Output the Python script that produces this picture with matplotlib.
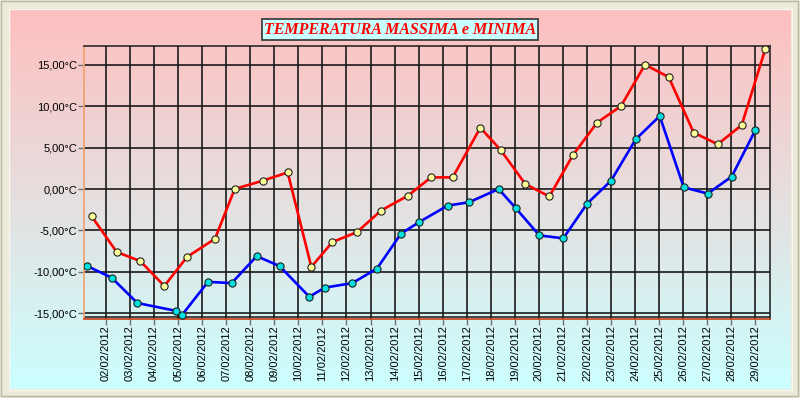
import matplotlib
matplotlib.use("Agg")
import matplotlib.pyplot as plt
import matplotlib.dates as mdates
import numpy as np
from datetime import datetime
from matplotlib.patches import Rectangle
from matplotlib.ticker import FuncFormatter, FixedLocator

# ---------------- data ----------------
max_times = ["2012-02-01 09:42", "2012-02-02 10:39", "2012-02-03 10:16", "2012-02-04 10:12",
             "2012-02-05 08:50", "2012-02-06 12:46", "2012-02-07 08:24", "2012-02-08 12:23",
             "2012-02-09 13:18", "2012-02-10 12:55", "2012-02-11 09:52", "2012-02-12 10:29",
             "2012-02-13 10:26", "2012-02-14 13:22", "2012-02-15 12:20", "2012-02-16 09:58",
             "2012-02-17 13:34", "2012-02-18 09:50", "2012-02-19 10:28", "2012-02-20 10:25",
             "2012-02-21 10:02", "2012-02-22 09:59", "2012-02-23 09:56", "2012-02-24 09:53",
             "2012-02-25 09:32", "2012-02-26 10:29", "2012-02-27 10:26", "2012-02-28 10:22",
             "2012-02-29 09:59"]
max_temps = [-3.3, -7.6, -8.7, -11.7, -8.2, -6.0, 0.0, 1.0, 2.0, -9.4, -6.4, -5.2, -2.6,
             -0.8, 1.4, 1.4, 7.4, 4.7, 0.6, -0.9, 4.1, 8.0, 10.0, 15.0, 13.5, 6.8, 5.4, 7.7, 16.9]

min_times = ["2012-02-01 05:23", "2012-02-02 05:40", "2012-02-03 07:16", "2012-02-04 21:50",
             "2012-02-05 03:50", "2012-02-06 05:46", "2012-02-07 05:24", "2012-02-08 06:22",
             "2012-02-09 05:17", "2012-02-10 10:54", "2012-02-11 02:10", "2012-02-12 05:46",
             "2012-02-13 06:23", "2012-02-14 06:20", "2012-02-15 00:20", "2012-02-16 04:58",
             "2012-02-17 02:15", "2012-02-18 07:52", "2012-02-19 00:50", "2012-02-20 00:29",
             "2012-02-21 00:22", "2012-02-22 00:14", "2012-02-23 00:00", "2012-02-24 00:37",
             "2012-02-25 00:35", "2012-02-26 00:32", "2012-02-27 00:29", "2012-02-28 00:26",
             "2012-02-29 00:00"]
min_temps = [-9.3, -10.7, -13.75, -14.7, -15.2, -11.2, -11.35, -8.1, -9.3, -13.0, -11.9,
             -11.35, -9.6, -5.4, -4.0, -2.0, -1.6, 0.0, -2.3, -5.6, -5.95, -1.75, 1.0, 6.0,
             8.8, 0.2, -0.55, 1.5, 7.1]

tick_days = list(range(2, 30))
y_ticks = [-15, -10, -5, 0, 5, 10, 15]
title = "TEMPERATURA MASSIMA e MINIMA"

# ---------------- figure ----------------
W, H = 800, 398
fig = plt.figure(figsize=(W / 100, H / 100), dpi=100)
fig.patch.set_facecolor("#ECE9D8")

bg = fig.add_axes([0, 0, 1, 1], zorder=0)
bg.set_xlim(0, W)
bg.set_ylim(H, 0)
bg.axis("off")
top_c = np.array([255, 191, 191]) / 255
bot_c = np.array([204, 255, 255]) / 255
t = np.linspace(0, 1, 256)[:, None, None]
grad = top_c[None, None, :] * (1 - t) + bot_c[None, None, :] * t
bg.imshow(grad, extent=(9, 791, 389, 9), aspect="auto", interpolation="bilinear")
bg.add_patch(Rectangle((1, 1), W - 3, H - 3, fill=False, edgecolor="#B8B4A0", lw=1))
bg.add_patch(Rectangle((8.5, 8.5), 783, 381, fill=False, edgecolor="#F8F6EE", lw=1))

ax = fig.add_axes([84 / W, 1 - 318.5 / H, (770 - 84) / W, (318.5 - 45.5) / H], zorder=2)
ax.set_facecolor("none")

mt = mdates.date2num([datetime.strptime(s, "%Y-%m-%d %H:%M") for s in max_times])
nt = mdates.date2num([datetime.strptime(s, "%Y-%m-%d %H:%M") for s in min_times])

ax.plot(mt, max_temps, color="#FF0000", lw=1.9, marker="o", ms=5.2,
        mfc="#FFFF99", mec="#202020", mew=0.8, zorder=4)
ax.plot(nt, min_temps, color="#0000FF", lw=1.9, marker="o", ms=5.2,
        mfc="#00E0E0", mec="#202020", mew=0.8, zorder=4)

d0 = mdates.date2num(datetime(2012, 2, 1))
ax.set_xlim(d0 + 0.085, d0 + 28.61)
ax.set_ylim(-15.62, 17.31)

xt = [mdates.date2num(datetime(2012, 2, d)) for d in tick_days]
ax.xaxis.set_major_locator(FixedLocator(xt))
ax.xaxis.set_major_formatter(mdates.DateFormatter("%d/%m/%Y"))
ax.yaxis.set_major_locator(FixedLocator(y_ticks))
ax.yaxis.set_major_formatter(FuncFormatter(lambda v, p: f"{v:.2f}".replace(".", ",") + "°C"))

ax.grid(True, color="#1A1A1A", lw=1.2, zorder=1)
ax.axhline(-15.38, color="#1A1A1A", lw=1.1, zorder=1)
ax.set_axisbelow(True)

for lab in ax.get_xticklabels():
    lab.set_rotation(90)
    lab.set_fontsize(8)
    lab.set_family("Liberation Sans")
for lab in ax.get_yticklabels():
    lab.set_fontsize(8)
    lab.set_family("Liberation Sans")
ax.tick_params(axis="both", length=4, width=1, color="#707070", pad=1, labelcolor="#000000")

ax.spines["left"].set_color("#F0A070")
ax.spines["left"].set_linewidth(1.2)
ax.spines["bottom"].set_color("#C84010")
ax.spines["bottom"].set_linewidth(1.2)
ax.spines["top"].set_color("#1A1A1A")
ax.spines["right"].set_color("#1A1A1A")
ax.spines["top"].set_linewidth(1.1)
ax.spines["right"].set_linewidth(1.1)

fig.text(0.5, 1 - 29.5 / H, title, ha="center", va="center", color="#FF0000",
         fontsize=11.5, fontstyle="italic", fontweight="bold", family="Liberation Serif",
         bbox=dict(boxstyle="square,pad=0.15", facecolor="#C8FFFF", edgecolor="#404040", lw=1.3),
         zorder=5)

fig.savefig("out.png", dpi=100, facecolor=fig.get_facecolor())
